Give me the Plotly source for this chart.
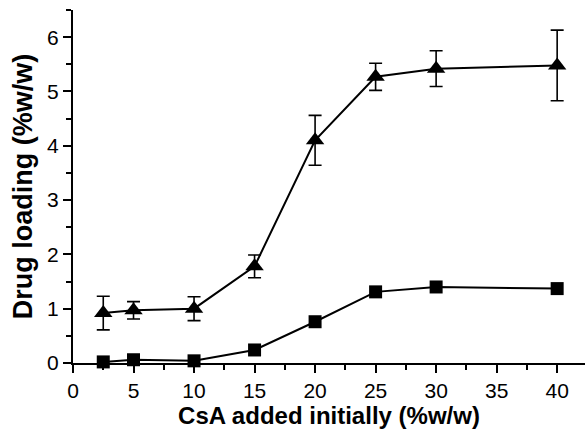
import plotly.graph_objects as go

csa_added = [2.5, 5, 10, 15, 20, 25, 30, 40]
tri_loading = [0.92, 0.97, 1.0, 1.78, 4.1, 5.27, 5.42, 5.48]
tri_err = [0.31, 0.16, 0.22, 0.21, 0.46, 0.25, 0.33, 0.65]
sq_loading = [0.02, 0.06, 0.04, 0.24, 0.76, 1.31, 1.40, 1.37]
sq_err = [0.03, 0.03, 0.03, 0.04, 0.05, 0.05, 0.05, 0.05]

x_ticks = [0, 5, 10, 15, 20, 25, 30, 35, 40]
y_ticks = [0, 1, 2, 3, 4, 5, 6]

fig = go.Figure()
fig.add_trace(go.Scatter(
    x=csa_added, y=tri_loading, mode="lines+markers",
    line=dict(color="black", width=2),
    marker=dict(symbol="triangle-up", size=16, color="black"),
    error_y=dict(type="data", array=tri_err, color="black", thickness=1.6, width=6.5),
    cliponaxis=False, showlegend=False))
fig.add_trace(go.Scatter(
    x=csa_added, y=sq_loading, mode="lines+markers",
    line=dict(color="black", width=2),
    marker=dict(symbol="square", size=13, color="black"),
    error_y=dict(type="data", array=sq_err, color="black", thickness=1.6, width=5),
    cliponaxis=False, showlegend=False))

fig.update_layout(
    width=585, height=438,
    margin=dict(l=73, r=0, t=10, b=75),
    paper_bgcolor="white", plot_bgcolor="white",
    font=dict(family="Liberation Sans, Arial, sans-serif", color="black", size=18),
)
fig.update_xaxes(
    range=[0, 42.3], tickvals=x_ticks, ticktext=[str(v) for v in x_ticks],
    showgrid=False, zeroline=False, showline=True, linecolor="black", linewidth=2,
    ticks="outside", ticklen=8, tickwidth=2, tickcolor="black",
    minor=dict(dtick=2.5, tick0=0, ticks="outside", ticklen=5, tickwidth=1.5, tickcolor="black"),
    tickfont=dict(size=21),
    title=dict(text="<b>CsA added initially (%w/w)</b>", font=dict(size=24), standoff=4),
)
fig.update_yaxes(
    range=[0, 6.5], tickvals=y_ticks, ticktext=[str(v) for v in y_ticks],
    showgrid=False, zeroline=False, showline=True, linecolor="black", linewidth=2,
    ticks="outside", ticklen=8, tickwidth=2, tickcolor="black",
    minor=dict(dtick=0.5, tick0=0, ticks="outside", ticklen=5, tickwidth=1.5, tickcolor="black"),
    tickfont=dict(size=21),
    title=dict(text="<b>Drug loading (%w/w)</b>", font=dict(size=27), standoff=7),
)

fig.write_html("out.html")
